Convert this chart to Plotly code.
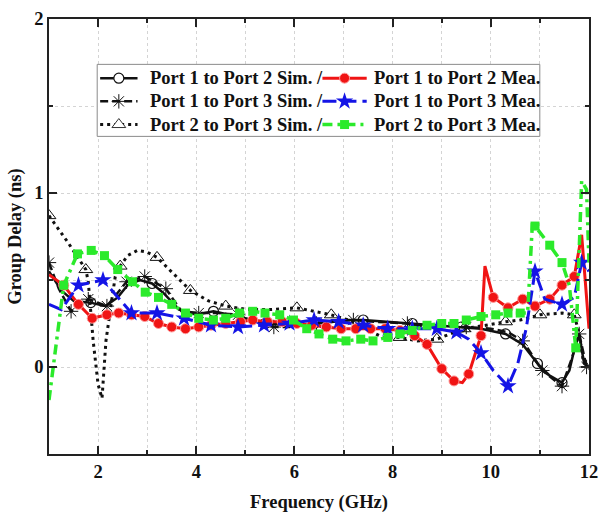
import plotly.graph_objects as go

# Group delay curves (GHz, ns)
p12_sim_f = [1.0, 1.25, 1.5, 1.85, 2.15, 2.4, 2.6, 2.85, 3.1, 3.35, 3.65, 4.0, 4.35, 4.7, 5.0, 5.4,
             5.9, 6.4, 6.9, 7.4, 7.9, 8.4, 8.9, 9.4, 9.8, 10.3, 10.65, 10.95, 11.2, 11.45, 11.6,
             11.7, 11.8, 11.9, 12.0]
p12_sim_gd = [0.55, 0.44, 0.38, 0.37, 0.35, 0.40, 0.47, 0.50, 0.48, 0.42, 0.33, 0.30, 0.32, 0.30,
              0.28, 0.25, 0.24, 0.25, 0.27, 0.27, 0.26, 0.25, 0.24, 0.23, 0.22, 0.19, 0.13, 0.02,
              -0.05, -0.09, -0.02, 0.10, 0.19, 0.02, 0.0]
p12_sim_marks = [3, 8, 12, 15, 17, 19, 21, 23, 25, 27, 29]

p13_sim_f = [1.0, 1.2, 1.45, 1.8, 2.18, 2.58, 2.95, 3.38, 3.7, 4.05, 4.45, 4.85, 5.2, 5.58, 5.9,
             6.45, 6.8, 7.2, 7.65, 8.3, 8.7, 9.5, 10.0, 10.35, 10.65, 11.05, 11.45, 11.65, 11.8,
             11.95, 12.0]
p13_sim_gd = [0.60, 0.45, 0.32, 0.39, 0.35, 0.49, 0.52, 0.45, 0.32, 0.31, 0.31, 0.30, 0.26, 0.23,
              0.23, 0.25, 0.26, 0.27, 0.26, 0.25, 0.23, 0.23, 0.22, 0.20, 0.15, -0.02, -0.11,
              0.05, 0.19, 0.0, -0.01]
p13_sim_marks = [0, 2, 3, 4, 5, 6, 7, 9, 11, 13, 15, 17, 19, 21, 24, 25, 26, 28, 29]

p23_sim_f = [1.0, 1.4, 1.75, 1.8, 1.9, 2.0, 2.08, 2.16, 2.27, 2.35, 2.45, 2.6, 2.8, 3.0, 3.2,
             3.45, 3.65, 3.88, 4.25, 4.6, 5.05, 5.5, 6.05, 6.4, 6.75, 7.1, 7.45, 7.8, 8.15, 8.5,
             8.9, 9.45, 9.9, 10.3, 10.6, 11.0, 11.45, 11.7, 11.8, 11.88, 12.0]
p23_sim_gd = [0.87, 0.71, 0.56, 0.49, 0.15, -0.10, -0.18, 0.15, 0.37, 0.52, 0.58, 0.64, 0.67,
              0.66, 0.63, 0.56, 0.50, 0.44, 0.38, 0.35, 0.33, 0.33, 0.34, 0.32, 0.30, 0.27, 0.22,
              0.17, 0.17, 0.15, 0.16, 0.22, 0.24, 0.26, 0.27, 0.30, 0.31, 0.30, 0.19, 0.04, 0.0]
p23_sim_marks = [0, 2, 10, 14, 17, 19, 22, 24, 28, 30, 31, 33, 35, 37]

p12_mea_f = [1.0, 1.3, 1.6, 1.88, 2.18, 2.42, 2.68, 2.95, 3.23, 3.5, 3.78, 4.05, 4.3, 4.6, 4.9,
             5.15, 5.45, 5.75, 6.05, 6.35, 6.65, 6.95, 7.25, 7.55, 7.85, 8.15, 8.45, 8.7, 9.0,
             9.25, 9.42, 9.55, 9.8, 9.88, 10.05, 10.35, 10.65, 10.9, 11.2, 11.45, 11.7, 11.85,
             12.0]
p12_mea_gd = [0.53, 0.47, 0.36, 0.28, 0.30, 0.31, 0.30, 0.29, 0.25, 0.23, 0.22, 0.23, 0.24, 0.25,
              0.26, 0.27, 0.26, 0.26, 0.25, 0.24, 0.23, 0.22, 0.22, 0.22, 0.22, 0.21, 0.18, 0.13,
              -0.01, -0.08, -0.09, -0.04, 0.18, 0.58, 0.40, 0.34, 0.39, 0.35, 0.39, 0.47, 0.52,
              0.76, 0.22]
p12_mea_unmarked = [0, 30, 33, 41, 42]

p13_mea_f = [1.0, 1.25, 1.6, 2.1, 2.68, 3.2, 3.75, 4.3, 4.85, 5.38, 5.9, 6.4, 6.9, 7.4, 7.9, 8.4,
             8.9, 9.3, 9.55, 9.8, 10.05, 10.35, 10.55, 10.72, 10.9, 11.1, 11.45, 11.7, 11.85, 12.0]
p13_mea_gd = [0.36, 0.33, 0.47, 0.50, 0.31, 0.31, 0.28, 0.24, 0.23, 0.24, 0.25, 0.27, 0.26, 0.24,
              0.22, 0.22, 0.22, 0.20, 0.16, 0.08, -0.02, -0.11, 0.02, 0.22, 0.55, 0.39, 0.36, 0.40,
              0.60, 0.55]
p13_mea_marks = [2, 3, 4, 5, 6, 7, 8, 9, 10, 11, 12, 13, 14, 15, 16, 17, 19, 21, 24, 26, 28]

p23_mea_f = [1.0, 1.3, 1.58, 1.86, 2.13, 2.4, 2.7, 2.96, 3.23, 3.5, 3.78, 4.05, 4.35, 4.6, 4.88,
             5.15, 5.4, 5.7, 5.98, 6.25, 6.5, 6.78, 7.05, 7.35, 7.6, 7.9, 8.15, 8.4, 8.7, 9.0,
             9.25, 9.5, 9.8, 10.1, 10.35, 10.6, 10.75, 10.85, 10.9, 11.2, 11.45, 11.6, 11.73,
             11.85, 11.95, 12.0]
p23_mea_gd = [-0.19, 0.47, 0.65, 0.67, 0.64, 0.56, 0.49, 0.43, 0.40, 0.36, 0.31, 0.28, 0.27, 0.28,
              0.31, 0.32, 0.31, 0.30, 0.27, 0.22, 0.19, 0.16, 0.15, 0.16, 0.15, 0.17, 0.19, 0.21,
              0.24, 0.25, 0.25, 0.27, 0.29, 0.30, 0.31, 0.31, 0.31, 0.84, 0.81, 0.70, 0.60, 0.47,
              0.11, 1.07, 1.02, 0.60]
p23_mea_unmarked = [0, 36, 37, 41, 43, 44, 45]

legend_rows = [
    ("p12_sim", "Port 1 to Port 2 Sim. /", "p12_mea", "Port 1 to Port 2 Mea."),
    ("p13_sim", "Port 1 to Port 3 Sim. /", "p13_mea", "Port 1 to Port 3 Mea."),
    ("p23_sim", "Port 2 to Port 3 Sim. /", "p23_mea", "Port 2 to Port 3 Mea."),
]

RED = "#f01414"
BLUE = "#1414e6"
GREEN = "#2bea2b"
BLACK = "#111111"

styles = {
    "p12_sim": dict(line=dict(color=BLACK, width=2.5, dash="solid"),
                    marker=dict(symbol="circle-open", size=10, color=BLACK, line=dict(width=1.2, color=BLACK))),
    "p13_sim": dict(line=dict(color=BLACK, width=2.5, dash="8px,4px"),
                    marker=dict(symbol="asterisk-open", size=12, color=BLACK, line=dict(width=1, color=BLACK))),
    "p23_sim": dict(line=dict(color=BLACK, width=3, dash="3px,4px"),
                    marker=dict(symbol="triangle-up-open", size=12, color=BLACK, line=dict(width=1, color="#333333"))),
    "p12_mea": dict(line=dict(color=RED, width=3, dash="solid"),
                    marker=dict(symbol="circle", size=10, color=RED, line=dict(width=1, color="#ff9a9a"))),
    "p13_mea": dict(line=dict(color=BLUE, width=3, dash="14px,6px"),
                    marker=dict(symbol="star", size=13, color=BLUE, line=dict(width=0))),
    "p23_mea": dict(line=dict(color=GREEN, width=3.5, dash="10px,5px,3px,5px"),
                    marker=dict(symbol="square", size=9, color=GREEN, line=dict(width=0))),
}

# legend key markers: open symbols get a white fill so the key line is broken around them
legend_marker_fill = {"p12_sim": ("circle", "white"), "p23_sim": ("triangle-up", "white")}


def pick(xs, ys, idx):
    return [xs[i] for i in idx], [ys[i] for i in idx]


def without(n, skip):
    return [i for i in range(n) if i not in skip]


series = [
    ("p12_sim", p12_sim_f, p12_sim_gd, p12_sim_marks),
    ("p13_sim", p13_sim_f, p13_sim_gd, p13_sim_marks),
    ("p23_sim", p23_sim_f, p23_sim_gd, p23_sim_marks),
    ("p12_mea", p12_mea_f, p12_mea_gd, without(len(p12_mea_f), p12_mea_unmarked)),
    ("p13_mea", p13_mea_f, p13_mea_gd, p13_mea_marks),
    ("p23_mea", p23_mea_f, p23_mea_gd, without(len(p23_mea_f), p23_mea_unmarked)),
]

fig = go.Figure()

for key, xs, ys, marks in series:
    st = styles[key]
    fig.add_trace(go.Scatter(x=xs, y=ys, mode="lines", line=st["line"],
                             showlegend=False, hoverinfo="skip"))
    mx, my = pick(xs, ys, marks)
    fig.add_trace(go.Scatter(x=mx, y=my, mode="markers", marker=st["marker"],
                             showlegend=False, hoverinfo="skip"))

# ---- legend box, drawn on a pixel-scaled overlay axis pair ----
W, H = 607, 521
M_L, M_R, M_T, M_B = 49, 9, 13, 67
PX0, PX1 = M_L, W - M_R
PY0, PY1 = M_T, H - M_B

BOX_L, BOX_R, BOX_T, BOX_B = 98, 548, 59, 132
ROW_Y0, ROW_STEP = 73, 23.5
KEY_COLS = [(101, 139, 150), (327, 372, 377)]  # key start, key end, text start

fig.add_trace(go.Scatter(
    x=[BOX_L, BOX_R, BOX_R, BOX_L, BOX_L], y=[BOX_T, BOX_T, BOX_B, BOX_B, BOX_T],
    mode="lines", fill="toself", fillcolor="white",
    line=dict(color="#8a8a8a", width=1), xaxis="x2", yaxis="y2",
    showlegend=False, hoverinfo="skip"))

font_family = "Liberation Serif, Times New Roman, serif"
annotations = []
for r, (k_sim, t_sim, k_mea, t_mea) in enumerate(legend_rows):
    ry = ROW_Y0 + r * ROW_STEP
    for (k0, k1, tx), key, text in zip(KEY_COLS, (k_sim, k_mea), (t_sim, t_mea)):
        st = styles[key]
        fig.add_trace(go.Scatter(x=[k0, k1], y=[ry, ry], mode="lines", line=st["line"],
                                 xaxis="x2", yaxis="y2", showlegend=False, hoverinfo="skip"))
        mk = dict(st["marker"])
        if key in legend_marker_fill:
            sym, fillc = legend_marker_fill[key]
            mk = dict(mk, symbol=sym, color=fillc)
        fig.add_trace(go.Scatter(x=[(k0 + k1) / 2], y=[ry], mode="markers", marker=mk,
                                 xaxis="x2", yaxis="y2", showlegend=False, hoverinfo="skip"))
        annotations.append(dict(
            x=tx, y=ry, xref="x2", yref="y2", text=text, showarrow=False,
            xanchor="left", yanchor="middle",
            font=dict(family=font_family, size=18.5, color="#111111", weight="bold")))

axis_common = dict(
    showline=True, linecolor="#222222", linewidth=1.5, mirror="ticks",
    ticks="inside", ticklen=8, tickwidth=1.5, tickcolor="#222222",
    showgrid=True, gridcolor="#d4d4d4", griddash="dot", gridwidth=1,
    zeroline=False,
    tickfont=dict(family=font_family, size=18.5, color="#111111", weight="bold"),
)

fig.update_layout(
    width=W, height=H,
    margin=dict(l=M_L, r=M_R, t=M_T, b=M_B),
    paper_bgcolor="white", plot_bgcolor="white",
    font=dict(family=font_family, color="#111111"),
    showlegend=False,
    annotations=annotations,
    xaxis=dict(
        range=[1, 12], tick0=0, dtick=2,
        minor=dict(dtick=1, ticks="inside", ticklen=4, tickwidth=1.5, tickcolor="#222222",
                   showgrid=True, gridcolor="#d4d4d4", griddash="dot", gridwidth=1),
        title=dict(text="Frequency (GHz)", standoff=14,
                   font=dict(family=font_family, size=18.5, weight="bold")),
        **axis_common,
    ),
    yaxis=dict(
        range=[-0.5, 2], tick0=0, dtick=1,
        minor=dict(dtick=0.5, ticks="inside", ticklen=4, tickwidth=1.5, tickcolor="#222222",
                   showgrid=True, gridcolor="#d4d4d4", griddash="dot", gridwidth=1),
        title=dict(text="Group Delay (ns)", standoff=8,
                   font=dict(family=font_family, size=18.5, weight="bold")),
        **axis_common,
    ),
    xaxis2=dict(overlaying="x", range=[PX0, PX1], visible=False, fixedrange=True),
    yaxis2=dict(overlaying="y", range=[PY1, PY0], visible=False, fixedrange=True),
)

fig.write_html("out.html")
